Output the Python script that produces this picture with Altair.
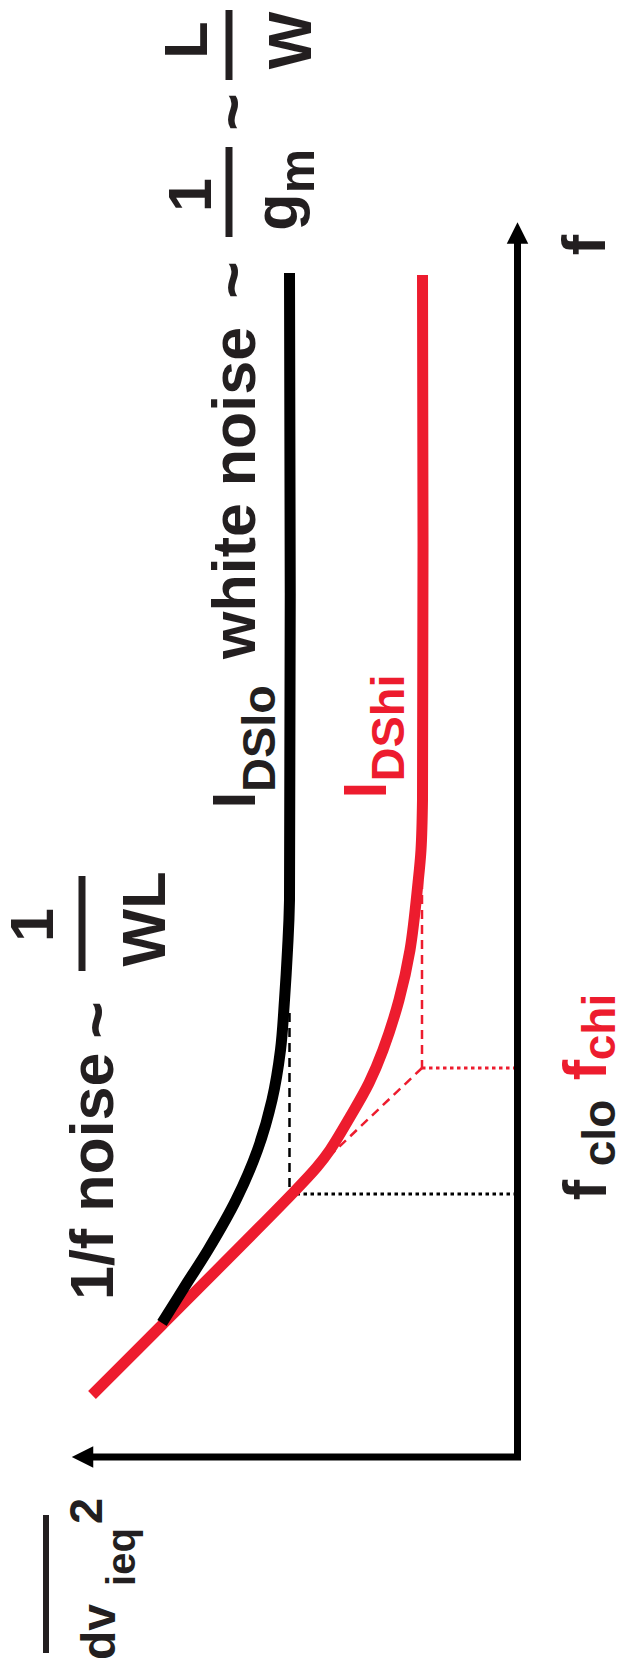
import altair as alt
import pandas as pd

BLACK = "#000000"
RED = "#ED1C2E"
INK = "#231F20"
FONT = "Liberation Sans"

# Log-noise (grows to the left) and log-frequency (grows upwards)
black_noise = [2.28, 2.28, 2.30, 2.33, 2.37, 2.455, 2.60, 2.815, 3.095, 3.305, 3.555]
black_freq = [11.84, 5.57, 5.07, 4.57, 4.07, 3.57, 3.07, 2.57, 2.07, 1.74, 1.34]
red_noise = [0.95, 0.95, 0.965, 0.995, 1.075, 1.185, 1.345, 1.485, 1.675, 1.875, 2.005, 2.265, 3.555, 4.255]
red_freq = [11.82, 6.57, 6.07, 5.74, 5.07, 4.57, 4.07, 3.74, 3.40, 3.07, 2.90, 2.62, 1.32, 0.62]

white_lo, white_hi = 2.28, 0.955     # white-noise levels
f_clo, f_chi = 2.63, 3.89            # corner frequencies
dash_top_lo, dash_top_hi = 4.44, 5.77

noise_axis_end, freq_axis_end = 4.30, 12.20
noise_arrow, freq_arrow = 4.35, 12.24

# fraction bars / overline: (noise, freq from, freq to)
bar_noise = [4.355, 2.885, 2.885, 4.715]
bar_f0 = [4.86, 12.20, 13.77, -1.96]
bar_f1 = [5.81, 13.10, 14.47, -0.58]

label_text = ["1/f noise", "~", "1", "WL",
              "I", "DSlo", "white noise", "~", "1", "g", "m", "~", "L", "W",
              "I", "DShi", "f", "f", "clo", "f", "chi", "dv", "ieq", "2"]
label_noise = [4.045, 3.995, 4.645, 3.525,
               2.625, 2.425, 2.625, 2.635, 3.065, 2.205, 2.035, 2.635, 3.105, 2.065,
               1.315, 1.135, -0.875, -0.885, -0.975, -0.885, -0.975, 4.025, 3.825, 4.155]
label_freq = [1.57, 4.37, 5.32, 5.38,
              6.57, 7.185, 7.98, 11.77, 12.62, 12.45, 12.86, 13.45, 14.17, 14.165,
              6.67, 7.29, 12.12, 2.67, 3.24, 3.87, 4.30, -2.03, -1.0, -0.54]
label_series = ["ink", "ink", "ink", "ink",
                "ink", "ink", "ink", "ink", "ink", "ink", "ink", "ink", "ink", "ink",
                "red", "red", "ink", "ink", "ink", "red", "red", "ink", "ink", "ink"]

label_style = {  # size, weight, align
    "1/f noise": (61, "bold", "left"), "~": (64, "bold", "center"),
    "1": (61, "bold", "center"), "WL": (61, "bold", "center"),
    "I": (61, "bold", "center"), "DSlo": (47, "bold", "center"),
    "white noise": (61, "bold", "left"), "g": (61, "bold", "center"),
    "m": (50, "bold", "center"), "L": (61, "bold", "center"), "W": (61, "bold", "center"),
    "DShi": (47, "bold", "center"), "f": (61, "bold", "center"),
    "clo": (46, "bold", "center"), "chi": (46, "bold", "center"),
    "dv": (48, "bold", "left"), "ieq": (40, "bold", "center"), "2": (47, "bold", "center"),
}

X = alt.X("n:Q", scale=alt.Scale(domain=[-0.985, 5.095], reverse=True), axis=None)
Y = alt.Y("f:Q", scale=alt.Scale(domain=[-2.12, 14.49]), axis=None)


def line_layer(ns, fs, color, width, dash=None, cap="butt", interp="linear"):
    df = pd.DataFrame({"n": ns, "f": fs, "i": list(range(len(ns)))})
    kw = dict(color=color, strokeWidth=width, strokeCap=cap, strokeJoin="miter",
              interpolate=interp)
    if dash:
        kw["strokeDash"] = dash
    return alt.Chart(df).mark_line(**kw).encode(x=X, y=Y, order="i:Q")


layers = []
# guides
layers.append(line_layer([white_lo, white_lo], [dash_top_lo, f_clo], BLACK, 2.5, dash=[9, 6]))
layers.append(line_layer([white_lo, 0], [f_clo, f_clo], BLACK, 3, dash=[3.5, 3.5]))
layers.append(line_layer([white_hi, white_hi], [dash_top_hi, f_chi], RED, 2.5, dash=[9, 6]))
layers.append(line_layer([white_hi, 0], [f_chi, f_chi], RED, 3, dash=[3.5, 3.5]))
layers.append(line_layer([white_hi, white_lo], [f_chi, f_clo], RED, 2.5, dash=[9, 6]))
# curves
layers.append(line_layer(red_noise, red_freq, RED, 11, interp="catmull-rom"))
layers.append(line_layer(black_noise, black_freq, BLACK, 11, interp="catmull-rom"))
# axes
layers.append(line_layer([noise_axis_end, 0, 0], [0, 0, freq_axis_end], BLACK, 7))
arrows = pd.DataFrame({"n": [noise_arrow, 0], "f": [0, freq_arrow],
                       "shape": ["M-1,0L1,-1L1,1Z", "M0,-1L1,1L-1,1Z"]})
layers.append(alt.Chart(arrows).mark_point(filled=True, opacity=1, size=462, color=BLACK).encode(
    x=X, y=Y, shape=alt.Shape("shape:N", scale=None)))
# bars
for bn, b0, b1 in zip(bar_noise, bar_f0, bar_f1):
    layers.append(line_layer([bn, bn], [b0, b1], INK, 7 if bn < 4.6 else 6))
# labels
for t, n, f, s in zip(label_text, label_noise, label_freq, label_series):
    size, weight, align = label_style[t]
    df = pd.DataFrame({"n": [n], "f": [f], "t": [t]})
    layers.append(alt.Chart(df).mark_text(
        angle=270, align=align, baseline="alphabetic", fontSize=size, fontWeight=weight,
        font=FONT, color=RED if s == "red" else INK).encode(x=X, y=Y, text="t:N"))

chart = alt.layer(*layers).properties(
    width=608, height=1661, padding=0, autosize=alt.AutoSizeParams(type="none")
).configure_view(stroke=None)

chart.save("out.html", embed_options={"renderer": "svg", "actions": False})
